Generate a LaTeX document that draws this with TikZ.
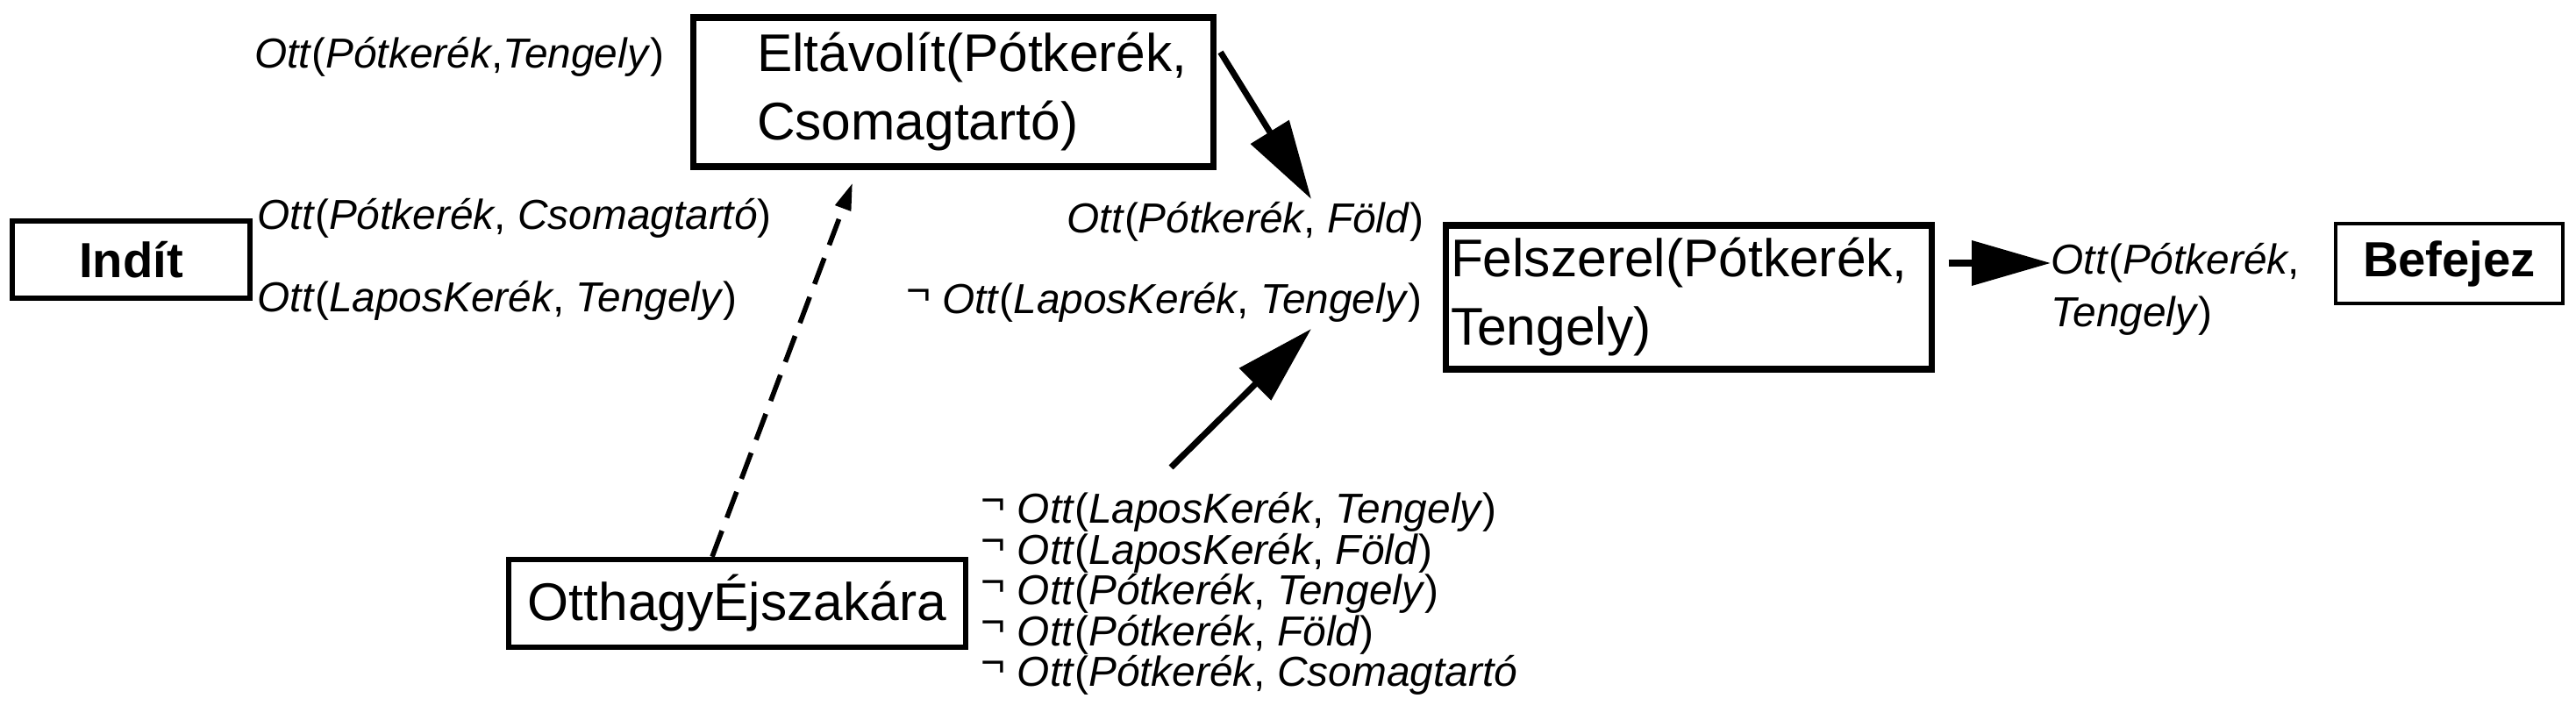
\documentclass[tikz,border=0pt]{standalone}
\usepackage{fontspec}
\setmainfont{Liberation Sans}
\usepackage{tikz}
\usetikzlibrary{arrows.meta}

\newcommand{\ott}[2]{\textit{Ott}(\textit{#1}, \textit{#2})}
\newcommand{\nem}{\raisebox{0.22em}{¬}\ }

\begin{document}
\begin{tikzpicture}[
    box/.style={draw, line width=2pt, inner sep=0pt, font=\fontsize{17.2}{22.2}\selectfont},
    endbox/.style={draw, inner sep=0pt, font=\fontsize{16}{19}\selectfont\bfseries},
    lbl/.style={inner sep=0pt, font=\fontsize{13.6}{13.2}\selectfont},
    bigarrow/.style={line width=2pt, -{Triangle[length=9mm,width=5mm]}}
]
\useasboundingbox (0,0) rectangle (29.37,8.2);

% Kezdet es vege
\node[endbox, line width=1.5pt, minimum width=2.71cm, minimum height=0.88cm] (indit) at (1.495,5.24) {Indít};
\node[endbox, line width=1.2pt, minimum width=2.59cm, minimum height=0.91cm] (befejez) at (27.925,5.195) {Befejez};

% Lepesek
\node[box, text width=5.93cm, minimum height=1.70cm, align=left] (eltavolit) at (10.865,7.15)
    {\hspace*{0.73cm}Eltávolít(Pótkerék,\\\hspace*{0.73cm}Csomagtartó)};
\node[box, text width=5.42cm, inner xsep=0.06cm, minimum height=1.64cm, align=left] (felszerel) at (19.25,4.81)
    {Felszerel(Pótkerék,\\Tengely)};
\node[box, line width=1.8pt, minimum width=5.21cm, minimum height=1.0cm] (otthagy) at (8.405,1.32) {OtthagyÉjszakára};

% Feltetelek
\node[lbl, anchor=east] (pt1) at (7.58,7.55) {\textit{Ott}(\textit{Pótkerék},\textit{Tengely})};
\node[lbl, anchor=west] (pcs) at (2.93,5.71) {\ott{Pótkerék}{Csomagtartó}};
\node[lbl, anchor=west] (lt) at (2.93,4.77) {\ott{LaposKerék}{Tengely}};
\node[lbl, anchor=east] (pf) at (16.24,5.67) {\ott{Pótkerék}{Föld}};
\node[lbl, anchor=east] (nlt) at (16.22,4.75) {\nem\ott{LaposKerék}{Tengely}};
\node[lbl, anchor=west, align=left, font=\fontsize{13.6}{17}\selectfont] (pt2) at (23.38,4.90)
    {\textit{Ott}(\textit{Pótkerék},\\\textit{Tengely})};
\node[lbl, anchor=west, align=left] (tagad) at (11.18,1.43)
    {\nem\ott{LaposKerék}{Tengely}\\
     \nem\ott{LaposKerék}{Föld}\\
     \nem\ott{Pótkerék}{Tengely}\\
     \nem\ott{Pótkerék}{Föld}\\
     \nem\textit{Ott}(\textit{Pótkerék}, \textit{Csomagtartó}};

% Nyilak
\coordinate (emel) at (13.35,2.87);
\draw[bigarrow] ([xshift=0.05cm,yshift=-0.43cm]eltavolit.north east) -- ([xshift=-1.29cm,yshift=0.26cm]pf.east);
\draw[bigarrow] (emel) -- ([xshift=-1.27cm,yshift=-0.30cm]nlt.east);
\draw[line width=1.6pt, dash pattern=on 9pt off 4.5pt, -{Triangle[length=3.1mm,width=1.8mm]}]
    ([xshift=-0.285cm]otthagy.north) -- ([xshift=-1.145cm,yshift=-0.15cm]eltavolit.south);
\draw[bigarrow] ([xshift=0.16cm,yshift=0.39cm]felszerel.east) -- ([yshift=0.30cm]pt2.west);
\end{tikzpicture}
\end{document}
